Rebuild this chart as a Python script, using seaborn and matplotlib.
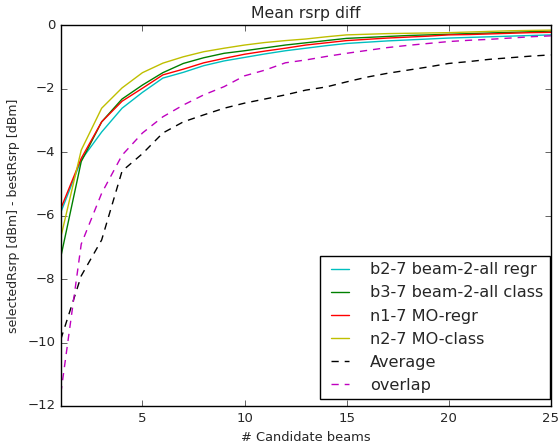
import matplotlib
matplotlib.use("Agg")
import matplotlib.pyplot as plt
import seaborn as sns
import numpy as np
import pandas as pd

# number of candidate beams
beams = list(range(1, 26))

# mean rsrp diff per method [dB]
b2_regr = [-5.9, -4.25, -3.37, -2.62, -2.12, -1.67, -1.49, -1.28, -1.13, -1.02,
           -0.91, -0.81, -0.73, -0.65, -0.58, -0.54, -0.5, -0.47, -0.44, -0.41,
           -0.39, -0.37, -0.35, -0.33, -0.31]
b3_class = [-7.3, -4.3, -3.05, -2.33, -1.89, -1.5, -1.21, -1.03, -0.89, -0.81,
            -0.72, -0.63, -0.56, -0.49, -0.42, -0.39, -0.36, -0.33, -0.31, -0.29,
            -0.27, -0.25, -0.23, -0.21, -0.19]
n1_regr = [-5.78, -4.2, -3.05, -2.4, -1.99, -1.57, -1.39, -1.19, -1.05, -0.92,
           -0.82, -0.73, -0.63, -0.56, -0.49, -0.45, -0.41, -0.38, -0.35, -0.31,
           -0.3, -0.28, -0.26, -0.24, -0.23]
n2_class = [-6.68, -3.94, -2.62, -1.98, -1.5, -1.2, -1.0, -0.84, -0.73, -0.63,
            -0.55, -0.49, -0.44, -0.37, -0.31, -0.29, -0.27, -0.26, -0.25, -0.24,
            -0.22, -0.2, -0.18, -0.17, -0.16]
average = [-9.9, -7.9, -6.77, -4.6, -4.05, -3.4, -3.05, -2.83, -2.62, -2.46,
           -2.33, -2.2, -2.05, -1.95, -1.79, -1.64, -1.52, -1.42, -1.32, -1.21,
           -1.15, -1.08, -1.03, -0.98, -0.94]
overlap = [-11.6, -6.9, -5.3, -4.1, -3.4, -2.89, -2.52, -2.2, -1.94, -1.6,
           -1.42, -1.19, -1.1, -0.99, -0.89, -0.8, -0.71, -0.64, -0.58, -0.52,
           -0.48, -0.45, -0.41, -0.37, -0.34]

plt.style.use("classic")
sns.set_style("ticks", {"xtick.direction": "in", "ytick.direction": "in"})
plt.rcParams["font.family"] = ["DejaVu Sans"]
plt.rcParams["lines.dashed_pattern"] = [5.2, 4.3]
plt.rcParams["lines.scale_dashes"] = False

fig = plt.figure(figsize=(5.58, 4.44), dpi=100, facecolor="white")
ax = fig.add_axes([0.109, 0.0856, 0.878, 0.858])

series = [
    ("b2-7 beam-2-all regr", b2_regr, "c", "-"),
    ("b3-7 beam-2-all class", b3_class, "g", "-"),
    ("n1-7 MO-regr", n1_regr, "r", "-"),
    ("n2-7 MO-class", n2_class, "y", "-"),
    ("Average", average, "k", "--"),
    ("overlap", overlap, "m", "--"),
]
for name, vals, col, ls in series:
    df = pd.DataFrame({"beams": beams, "diff": vals})
    sns.lineplot(data=df, x="beams", y="diff", color=col, linestyle=ls,
                 linewidth=1.0, label=name, ax=ax)

ax.set_xlim(1, 25)
ax.set_ylim(-12, 0)
ax.set_xticks([5, 10, 15, 20, 25])
ax.set_yticks(np.arange(-12, 1, 2))
ax.tick_params(direction="in", top=True, right=True, labelsize=9.5, length=4)
for s in ax.spines.values():
    s.set_visible(True)
    s.set_color("black")
ax.set_xlabel("# Candidate beams", fontsize=9.4)
ax.set_ylabel("selectedRsrp [dBm] - bestRsrp [dBm]", fontsize=9)
ax.set_title("Mean rsrp diff", fontsize=11.3)

leg = ax.legend(loc="lower right", bbox_to_anchor=(0.998, 0.018),
                fontsize=11.6, frameon=True, fancybox=False,
                borderaxespad=0, handlelength=1.7, handletextpad=1.0,
                labelspacing=0.5)
leg.get_frame().set_edgecolor("black")

fig.savefig("out.png", dpi=100, facecolor="white")
